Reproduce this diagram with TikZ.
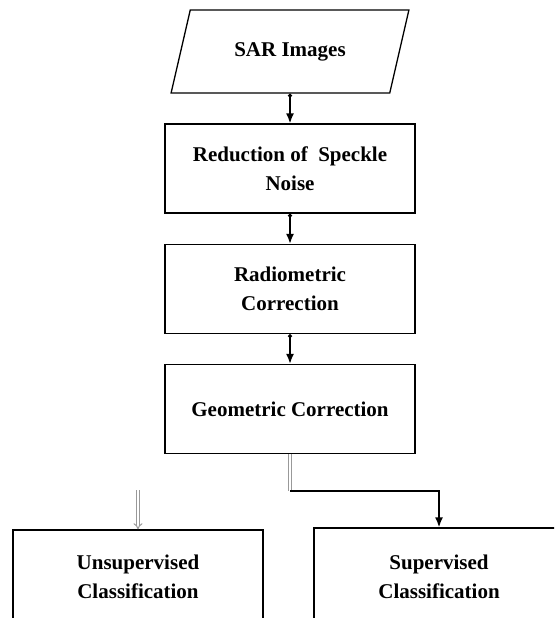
\documentclass[tikz,border=0pt]{standalone}
\usepackage{fontspec}
\setmainfont{Liberation Serif}
\usetikzlibrary{arrows.meta,shapes.geometric}

\begin{document}
\begin{tikzpicture}[x=1pt,y=-1pt,
  boxfont/.style={font=\fontsize{21}{28.5}\selectfont\bfseries},
  procbox/.style={draw,line width=1.3pt,minimum width=250pt,minimum height=89pt,
    align=center,inner sep=0pt,boxfont},
  iobox/.style={draw,trapezium,trapezium left angle=60,trapezium right angle=120,
    trapezium stretches=true,minimum width=238pt,minimum height=83pt,
    inner sep=0pt,line width=1.3pt,boxfont},
  flowarrow/.style={line width=1.6pt,{Circle[length=4pt]}-{Latex[length=10pt,width=8pt]}},
  grayline/.style={draw=gray!80,double=white,double distance=2pt,line width=1pt}
]
\useasboundingbox (0,0) rectangle (554,618);
\clip (0,0) rectangle (554,618);
% input and processing steps
\node[iobox] (sar) at (290,51.5) {SAR Images};
\node[procbox] (speckle) at (290,168.5) {Reduction of\ \ Speckle\\Noise};
\node[procbox] (radio) at (290,289) {Radiometric\\Correction};
\node[procbox] (geo) at (290,409) {Geometric Correction};
% classification
\node[procbox,minimum height=94pt] (unsup) at (138,577) {Unsupervised\\Classification};
\node[procbox,minimum height=98pt] (sup) at (439,577) {Supervised\\Classification};
% connectors
\draw[flowarrow] (sar.south -| speckle.north) -- (speckle.north);
\draw[flowarrow] (speckle.south) -- (radio.north);
\draw[flowarrow] (radio.south) -- (geo.north);
\coordinate (split) at (290,491);
\coordinate (hint) at (138,490);
\draw[grayline] (geo.south) -- (split);
\draw[line width=1.6pt,-{Latex[length=10pt,width=8pt]}] (split) -| (sup.north);
\draw[grayline,-{Implies[length=8pt]}] (hint) -- (unsup.north);
\end{tikzpicture}
\end{document}
